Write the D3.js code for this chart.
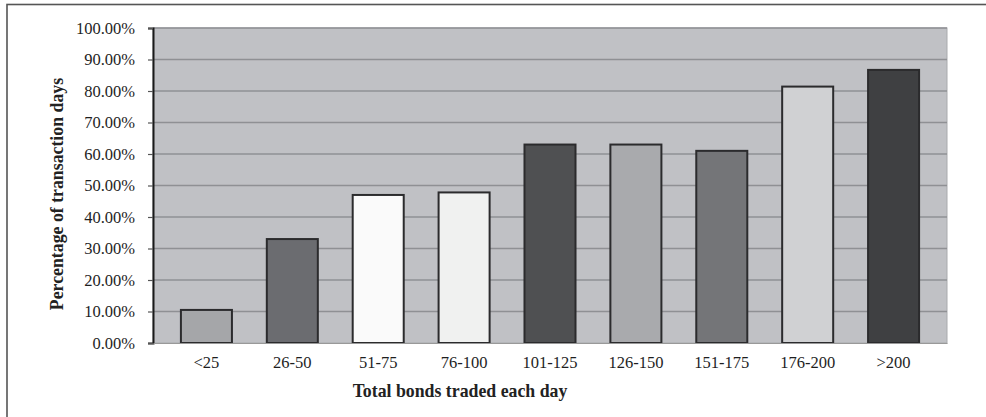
<!DOCTYPE html>
<html>
<head>
<meta charset="utf-8">
<script src="https://cdn.jsdelivr.net/npm/d3@7"></script>
<style>
  body { margin: 0; background: #fff; }
  svg text { font-family: "Liberation Serif", "Times New Roman", serif; fill: #222; }
</style>
</head>
<body>
<div id="chart"></div>
<script>
// values
var categories = ['<25', '26-50', '51-75', '76-100', '101-125', '126-150', '151-175', '176-200', '>200'];
var shares = [10.5, 33.0, 47.0, 47.8, 63.0, 63.0, 61.0, 81.4, 86.7];
var barGreys = ['#a5a6a9', '#6b6c70', '#fafafa', '#f0f1f0', '#4f5052', '#a9aaad', '#747578', '#d0d1d3', '#3f4042'];
var yTicks = [0, 10, 20, 30, 40, 50, 60, 70, 80, 90, 100];

var w = 986, h = 417;
var plot = { left: 153, right: 947, top: 28, bottom: 343 };

var svg = d3.select('#chart')
  .append('svg')
  .attr('width', w)
  .attr('height', h);

// outer frame, cut off at right and bottom like the scan
svg.append('rect')
  .attr('x', 7)
  .attr('y', 4.5)
  .attr('width', w + 20)
  .attr('height', h + 20)
  .style('fill', 'none')
  .style('stroke', '#555')
  .style('stroke-width', 1.6);

var x = d3.scaleBand()
  .domain(categories)
  .range([plot.left, plot.right])
  .paddingInner(0.406)
  .paddingOuter(0.325);

var y = d3.scaleLinear()
  .domain([0, 100])
  .range([plot.bottom, plot.top]);

// plot background
svg.append('rect')
  .attr('x', plot.left)
  .attr('y', plot.top)
  .attr('width', plot.right - plot.left)
  .attr('height', plot.bottom - plot.top)
  .style('fill', '#c0c1c5')
  .style('stroke', '#a9aaad')
  .style('stroke-width', 1);

// gridlines
svg.append('g')
  .selectAll('line')
  .data(yTicks.filter(function (d) { return d > 0; }))
  .enter()
  .append('line')
  .attr('x1', plot.left)
  .attr('x2', plot.right)
  .attr('y1', function (d) { return y(d); })
  .attr('y2', function (d) { return y(d); })
  .style('stroke', '#8f9094')
  .style('stroke-width', 1.6);

// bars
svg.append('g')
  .selectAll('rect')
  .data(shares)
  .enter()
  .append('rect')
  .attr('x', function (d, i) { return x(categories[i]); })
  .attr('y', function (d) { return y(d); })
  .attr('width', x.bandwidth())
  .attr('height', function (d) { return y(0) - y(d); })
  .style('fill', function (d, i) { return barGreys[i]; })
  .style('stroke', '#2b2b2d')
  .style('stroke-width', 2);

// y axis
var yAxis = svg.append('g')
  .attr('transform', 'translate(' + plot.left + ',0)')
  .call(d3.axisLeft(y)
    .tickValues(yTicks)
    .tickSize(5)
    .tickPadding(13)
    .tickFormat(function (d) { return d.toFixed(2) + '%'; }));

yAxis.select('.domain')
  .style('stroke', '#1a1a1a')
  .style('stroke-width', 2);
yAxis.selectAll('.tick line')
  .style('stroke', '#555')
  .style('stroke-width', 1.2);
yAxis.selectAll('.tick text')
  .style('font-size', '16.5px')
  .style('font-family', '"Liberation Serif", serif')
  .style('fill', '#1e1e1e');

// x axis
var xAxis = svg.append('g')
  .attr('transform', 'translate(0,' + plot.bottom + ')')
  .call(d3.axisBottom(x).tickSize(0).tickPadding(13));

xAxis.select('.domain')
  .style('stroke', '#999')
  .style('stroke-width', 1);
xAxis.selectAll('.tick text')
  .style('font-size', '16.5px')
  .style('font-family', '"Liberation Serif", serif')
  .style('fill', '#1e1e1e');

// axis titles
svg.append('text')
  .text('Percentage of transaction days')
  .attr('transform', 'translate(63,194) rotate(-90)')
  .attr('text-anchor', 'middle')
  .style('font-size', '17.8px')
  .style('font-weight', 'bold');

svg.append('text')
  .text('Total bonds traded each day')
  .attr('x', 460)
  .attr('y', 397)
  .attr('text-anchor', 'middle')
  .style('font-size', '17.8px')
  .style('font-weight', 'bold');
</script>
</body>
</html>
